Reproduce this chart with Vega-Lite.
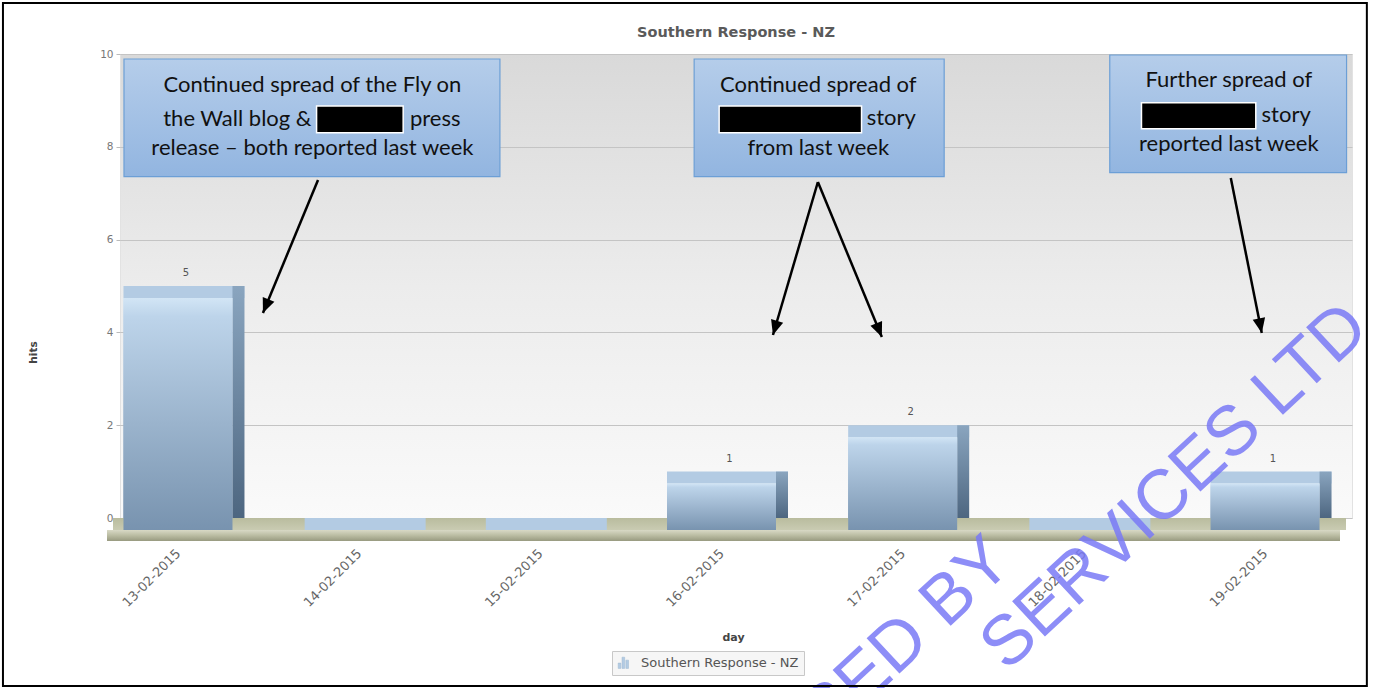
{
  "$schema": "https://vega.github.io/schema/vega-lite/v6.json",
  "width": 1232,
  "height": 464,
  "autosize": {"type": "none"},
  "padding": {"left": 120, "top": 54, "right": 22, "bottom": 170},
  "background": "white",
  "title": {"text": "Southern Response - NZ", "frame": "group", "font": "DejaVu Sans", "fontSize": 14.5, "fontWeight": "bold", "color": "#5a5a5a", "anchor": "middle", "offset": -38},
  "config": {
    "view": {"stroke": "#e2e2e2", "fill": {"gradient": "linear", "x1": 0, "y1": 0, "x2": 0, "y2": 1, "stops": [{"offset": 0, "color": "#d9d9d9"}, {"offset": 0.5, "color": "#ececec"}, {"offset": 1, "color": "#fafafa"}]}},
    "axisX": {
      "labelAngle": -45, "labelAlign": "right", "labelBaseline": "middle", "labelPadding": 33,
      "labelOverlap": false, "labelFlush": false, "labelBound": false,
      "labelFont": "DejaVu Sans", "labelFontSize": 13, "labelColor": "#666666",
      "ticks": false, "domain": false, "grid": false,
      "titleFont": "DejaVu Sans", "titleFontSize": 11, "titleFontWeight": "bold", "titleColor": "#444444",
      "titleX": 613, "titleY": 119, "titleBaseline": "middle", "titleAlign": "center"
    },
    "axisY": {
      "grid": true, "gridColor": "#c4c4c4", "gridWidth": 1.2,
      "ticks": true, "tickSize": 4, "tickColor": "#bbbbbb", "domain": false,
      "labelFont": "DejaVu Sans", "labelFontSize": 10.5, "labelColor": "#777777", "labelPadding": 3,
      "titleFont": "DejaVu Sans", "titleFontSize": 10.5, "titleFontWeight": "bold", "titleColor": "#444444",
      "titleAngle": 270, "titleX": -87, "titleY": 298, "titleBaseline": "middle", "titleAlign": "center"
    }
  },
  "datasets": {
    "hits": [
      {"date": "13-02-2015", "day": 13, "hits": 5, "series": "Southern Response - NZ"},
      {"date": "14-02-2015", "day": 14, "hits": 0, "series": "Southern Response - NZ"},
      {"date": "15-02-2015", "day": 15, "hits": 0, "series": "Southern Response - NZ"},
      {"date": "16-02-2015", "day": 16, "hits": 1, "series": "Southern Response - NZ"},
      {"date": "17-02-2015", "day": 17, "hits": 2, "series": "Southern Response - NZ"},
      {"date": "18-02-2015", "day": 18, "hits": 0, "series": "Southern Response - NZ"},
      {"date": "19-02-2015", "day": 19, "hits": 1, "series": "Southern Response - NZ"}
    ],
    "boxes": [
      {"x1": 12.702, "x2": 14.777, "y1": 9.892, "y2": 7.356},
      {"x1": 15.849, "x2": 17.229, "y1": 9.892, "y2": 7.356},
      {"x1": 18.143, "x2": 19.45, "y1": 9.978, "y2": 7.442}
    ],
    "redactions": [
      {"x1": 13.765, "x2": 14.243, "y1": 8.879, "y2": 8.304},
      {"x1": 15.987, "x2": 16.773, "y1": 8.879, "y2": 8.304},
      {"x1": 18.318, "x2": 18.949, "y1": 8.951, "y2": 8.39}
    ],
    "linesCenter": [
      {"x": 13.742, "y": 9.332, "t": "Continued spread of the Fly on"},
      {"x": 13.742, "y": 7.967, "t": "release – both reported last week"},
      {"x": 16.534, "y": 9.332, "t": "Continued spread of"},
      {"x": 16.534, "y": 7.967, "t": "from last week"},
      {"x": 18.8, "y": 9.44, "t": "Further spread of"},
      {"x": 18.8, "y": 8.054, "t": "reported last week"}
    ],
    "linesRight": [
      {"x": 13.737, "y": 8.6, "t": "the Wall blog &"}
    ],
    "linesLeft": [
      {"x": 14.28, "y": 8.6, "t": "press"},
      {"x": 16.801, "y": 8.614, "t": "story"},
      {"x": 18.981, "y": 8.69, "t": "story"}
    ],
    "arrows": [
      {"x1": 13.773, "y1": 7.284, "x2": 13.469, "y2": 4.418, "deg": 202.5},
      {"x1": 16.532, "y1": 7.241, "x2": 16.284, "y2": 3.944, "deg": 196.4},
      {"x1": 16.532, "y1": 7.241, "x2": 16.885, "y2": 3.901, "deg": 157.6},
      {"x1": 18.811, "y1": 7.328, "x2": 18.982, "y2": 3.987, "deg": 168.7}
    ],
    "watermark": [
      {"x": 17.619, "y": -1.034, "t": "RELEASED BY"},
      {"x": 19.589, "y": 4.009, "t": "SERVICES LTD"}
    ]
  },
  "layer": [
    {
      "data": {"name": "hits"},
      "mark": {"type": "bar", "width": 109, "yOffset": 12, "y2Offset": 12, "color": {"gradient": "linear", "x1": 0, "y1": 0, "x2": 0, "y2": 1, "stops": [{"offset": 0, "color": "#d2e5f5"}, {"offset": 0.08, "color": "#bdd4ea"}, {"offset": 1, "color": "#7893af"}]}},
      "encoding": {
        "x": {
          "field": "day", "type": "quantitative",
          "scale": {"domain": [12.68, 19.48], "nice": false, "zero": false, "padding": 0},
          "axis": {"values": [13, 14, 15, 16, 17, 18, 19], "labelExpr": "datum.value + '-02-2015'", "title": "day"}
        },
        "y": {
          "field": "hits", "type": "quantitative",
          "scale": {"domain": [0, 10], "nice": false, "padding": 0},
          "axis": {"values": [0, 2, 4, 6, 8, 10], "title": "hits"}
        }
      }
    },
    {
      "data": {"values": [{}]},
      "mark": {"type": "rect", "xOffset": -7, "x2Offset": -6, "y2Offset": 12, "color": {"gradient": "linear", "x1": 0, "y1": 0, "x2": 0, "y2": 1, "stops": [{"offset": 0, "color": "#b9bc9e"}, {"offset": 1, "color": "#c9cbb2"}]}},
      "encoding": {
        "x": {"datum": 12.68, "type": "quantitative"},
        "x2": {"datum": 19.48},
        "y": {"datum": 0, "type": "quantitative"},
        "y2": {"datum": 0}
      }
    },
    {
      "data": {"values": [{}]},
      "mark": {"type": "rect", "xOffset": -13, "x2Offset": -12, "yOffset": 12, "y2Offset": 23, "color": {"gradient": "linear", "x1": 0, "y1": 0, "x2": 0, "y2": 1, "stops": [{"offset": 0, "color": "#d8d9c6"}, {"offset": 0.5, "color": "#babca2"}, {"offset": 1, "color": "#989a80"}]}},
      "encoding": {
        "x": {"datum": 12.68, "type": "quantitative"},
        "x2": {"datum": 19.48},
        "y": {"datum": 0, "type": "quantitative"},
        "y2": {"datum": 0}
      }
    },
    {
      "data": {"name": "hits"},
      "mark": {"type": "bar", "width": 121, "xOffset": 6, "y2Offset": 12},
      "encoding": {
        "x": {"field": "day", "type": "quantitative"},
        "y": {"field": "hits", "type": "quantitative"},
        "y2": {"field": "hits"},
        "fill": {
          "field": "series", "type": "nominal",
          "scale": {"range": ["#b3cbe3"]},
          "legend": {
            "orient": "none", "legendX": 492, "legendY": 597, "direction": "horizontal", "title": null,
            "symbolType": "M-0.9,1V0.1H-0.45V1ZM-0.25,1V-0.9H0.2V1ZM0.4,1V-0.4H0.85V1Z",
            "symbolSize": 140, "symbolStrokeColor": "#9fb8d0", "symbolStrokeWidth": 0.5,
            "labelFont": "DejaVu Sans", "labelFontSize": 13, "labelColor": "#555555", "labelOffset": 11,
            "fillColor": "#f6f6f6", "strokeColor": "#c8c8c8", "padding": 5
          }
        }
      }
    },
    {
      "data": {"name": "hits"},
      "mark": {"type": "bar", "width": 12, "xOffset": 60.5, "y2Offset": 12, "color": {"gradient": "linear", "x1": 0, "y1": 0, "x2": 0, "y2": 1, "stops": [{"offset": 0, "color": "#8aa5bf"}, {"offset": 1, "color": "#4d6680"}]}},
      "encoding": {
        "x": {"field": "day", "type": "quantitative"},
        "y": {"field": "hits", "type": "quantitative"}
      }
    },
    {
      "data": {"name": "hits"},
      "mark": {"type": "bar", "width": 109, "yOffset": 12, "y2Offset": 12, "color": {"gradient": "linear", "x1": 0, "y1": 0, "x2": 0, "y2": 1, "stops": [{"offset": 0, "color": "#d2e5f5"}, {"offset": 0.08, "color": "#bdd4ea"}, {"offset": 1, "color": "#7893af"}]}},
      "encoding": {
        "x": {"field": "day", "type": "quantitative"},
        "y": {"field": "hits", "type": "quantitative"}
      }
    },
    {
      "data": {"name": "hits"},
      "transform": [{"filter": "datum.hits > 0"}],
      "mark": {"type": "text", "dx": 8, "dy": -13, "baseline": "middle", "font": "DejaVu Sans", "fontSize": 10, "color": "#555555"},
      "encoding": {
        "x": {"field": "day", "type": "quantitative"},
        "y": {"field": "hits", "type": "quantitative"},
        "text": {"field": "hits", "type": "quantitative"}
      }
    },
    {
      "data": {"name": "boxes"},
      "mark": {"type": "rect", "stroke": "#6c9fd6", "strokeWidth": 1.2, "fill": {"gradient": "linear", "x1": 0, "y1": 0, "x2": 0, "y2": 1, "stops": [{"offset": 0, "color": "#b5cdea"}, {"offset": 1, "color": "#92b5e0"}]}},
      "encoding": {
        "x": {"field": "x1", "type": "quantitative"},
        "x2": {"field": "x2"},
        "y": {"field": "y1", "type": "quantitative"},
        "y2": {"field": "y2"}
      }
    },
    {
      "data": {"name": "redactions"},
      "mark": {"type": "rect", "fill": "#000000", "stroke": "#ffffff", "strokeWidth": 1.5},
      "encoding": {
        "x": {"field": "x1", "type": "quantitative"},
        "x2": {"field": "x2"},
        "y": {"field": "y1", "type": "quantitative"},
        "y2": {"field": "y2"}
      }
    },
    {
      "data": {"name": "linesCenter"},
      "mark": {"type": "text", "align": "center", "baseline": "middle", "font": "Lato", "fontSize": 22, "color": "#111111"},
      "encoding": {
        "x": {"field": "x", "type": "quantitative"},
        "y": {"field": "y", "type": "quantitative"},
        "text": {"field": "t", "type": "nominal"}
      }
    },
    {
      "data": {"name": "linesRight"},
      "mark": {"type": "text", "align": "right", "baseline": "middle", "font": "Lato", "fontSize": 22, "color": "#111111"},
      "encoding": {
        "x": {"field": "x", "type": "quantitative"},
        "y": {"field": "y", "type": "quantitative"},
        "text": {"field": "t", "type": "nominal"}
      }
    },
    {
      "data": {"name": "linesLeft"},
      "mark": {"type": "text", "align": "left", "baseline": "middle", "font": "Lato", "fontSize": 22, "color": "#111111"},
      "encoding": {
        "x": {"field": "x", "type": "quantitative"},
        "y": {"field": "y", "type": "quantitative"},
        "text": {"field": "t", "type": "nominal"}
      }
    },
    {
      "data": {"name": "arrows"},
      "mark": {"type": "rule", "strokeWidth": 2.5, "color": "#000000"},
      "encoding": {
        "x": {"field": "x1", "type": "quantitative"},
        "x2": {"field": "x2"},
        "y": {"field": "y1", "type": "quantitative"},
        "y2": {"field": "y2"}
      }
    },
    {
      "data": {"name": "arrows"},
      "mark": {"type": "point", "filled": true, "color": "#000000", "opacity": 1, "shape": "M0,0L-0.9,2.1L0.9,2.1Z", "size": 196},
      "encoding": {
        "x": {"field": "x2", "type": "quantitative"},
        "y": {"field": "y2", "type": "quantitative"},
        "angle": {"field": "deg", "type": "quantitative", "scale": null}
      }
    },
    {
      "data": {"name": "watermark"},
      "mark": {"type": "text", "align": "right", "baseline": "alphabetic", "angle": 317, "font": "Liberation Sans", "fontSize": 70, "color": "#7a7af6", "opacity": 0.85},
      "encoding": {
        "x": {"field": "x", "type": "quantitative"},
        "y": {"field": "y", "type": "quantitative"},
        "text": {"field": "t", "type": "nominal"}
      }
    },
    {
      "data": {"values": [{}]},
      "mark": {"type": "rect", "filled": false, "color": "#000000", "strokeWidth": 2},
      "encoding": {
        "x": {"datum": 12.034, "type": "quantitative"},
        "x2": {"datum": 19.562},
        "y": {"datum": 11.099, "type": "quantitative"},
        "y2": {"datum": -3.621}
      }
    }
  ]
}
